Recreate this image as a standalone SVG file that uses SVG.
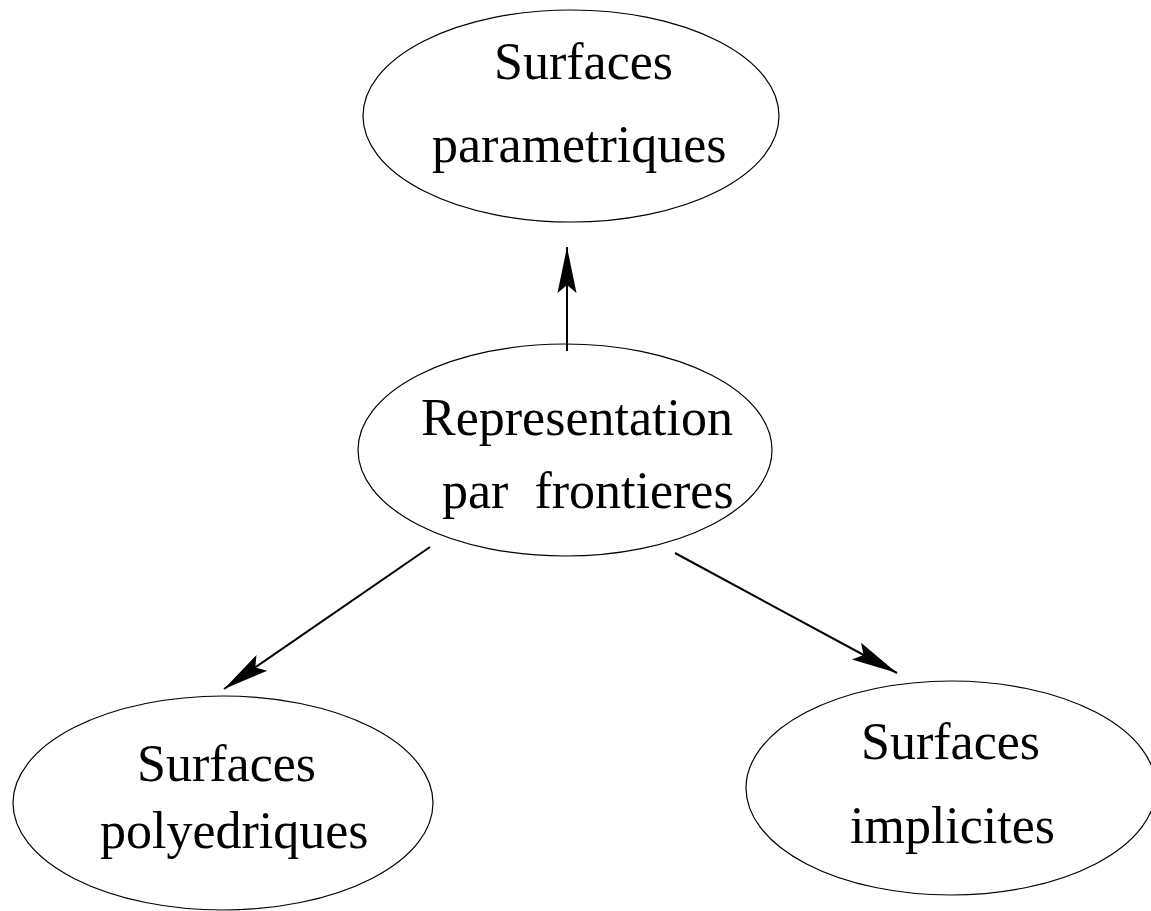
<svg xmlns="http://www.w3.org/2000/svg" width="1151" height="911" viewBox="0 0 1151 911">
<style>
.node ellipse { fill: #fff; stroke: #000; stroke-width: 1.2; }
.node text { font-family: "Liberation Serif", "Times New Roman", serif; font-size: 52px; fill: #000; }
.edges line { stroke: #000; stroke-width: 2; }
</style>
<defs>
<marker id="arrow" markerUnits="userSpaceOnUse" markerWidth="60" markerHeight="30" viewBox="-50 -15 60 30" refX="0" refY="0" orient="auto" overflow="visible">
<path d="M0,0 L-46,-9.5 L-38,0 L-46,9.5 Z" fill="#000"/>
</marker>
</defs>
<rect width="1151" height="911" fill="#fff"/>
<g id="node-parametriques" class="node">
<ellipse cx="571" cy="116" rx="208" ry="106"/>
<text x="494" y="79">Surfaces</text>
<text x="432" y="162">parametriques</text>
</g>
<g id="node-representation" class="node">
<ellipse cx="565" cy="450" rx="207" ry="106"/>
<text x="421" y="435">Representation</text>
<text x="442" y="508" xml:space="preserve">par  frontieres</text>
</g>
<g id="node-polyedriques" class="node">
<ellipse cx="223" cy="803" rx="210" ry="107"/>
<text x="137" y="781">Surfaces</text>
<text x="100" y="848">polyedriques</text>
</g>
<g id="node-implicites" class="node">
<ellipse cx="951" cy="788" rx="205" ry="107"/>
<text x="861" y="759">Surfaces</text>
<text x="850" y="843">implicites</text>
</g>
<g id="edges" class="edges">
<line x1="567" y1="351" x2="567" y2="247" marker-end="url(#arrow)"/>
<line x1="430" y1="547" x2="224" y2="689" marker-end="url(#arrow)"/>
<line x1="675" y1="553" x2="897" y2="673" marker-end="url(#arrow)"/>
</g>
</svg>
